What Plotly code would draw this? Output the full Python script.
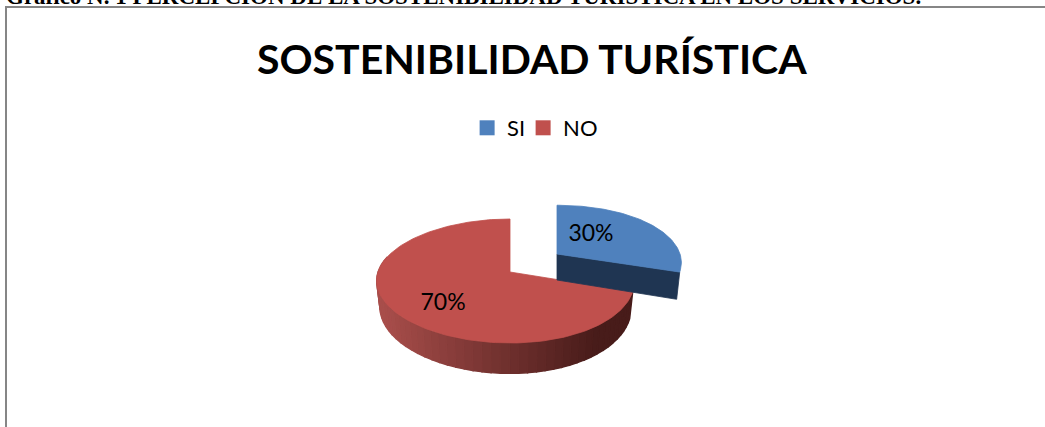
import numpy as np
import plotly.graph_objects as go

# Data
categories = ["SI", "NO"]
values = [30, 70]
colors = ["#4F81BD", "#C0504D"]
title_text = "SOSTENIBILIDAD TURÍSTICA"
header_text = "Gráfico N. 1 PERCEPCIÓN DE LA SOSTENIBILIDAD TURÍSTICA EN LOS SERVICIOS."

W, H = 1045, 427

# Projection of the tilted 3D pie
RX, RY, PERSP, SKEW = 127.5, 60.7, 0.145, 0.035
DEPTH = 26
apex = {"NO": (510, 272), "SI": (557, 254)}
yscale = {"NO": 1.0, "SI": 0.92}


def proj(theta_deg, name, r=1.0, drop=0.0):
    t = np.radians(theta_deg)
    ax, ay = apex[name]
    s = 1 / (1 + PERSP * r * np.cos(t))
    xscale = 1 - 0.025 * (drop > 0)
    x = ax + RX * r * np.sin(t) * s * (1 - SKEW * r * np.sin(t)) * xscale
    y = ay - RY * yscale[name] * r * np.cos(t) * s + drop * s
    return x, y


fracs = np.array(values) / sum(values) * 360
starts = np.concatenate([[0], np.cumsum(fracs)[:-1]])
ends = starts + fracs

fig = go.Figure()


def poly(xs, ys, color, width=0.8):
    fig.add_trace(go.Scatter(
        x=list(xs), y=list(ys), mode="lines", fill="toself", fillcolor=color,
        line=dict(color=color, width=width), showlegend=False, hoverinfo="skip"))


def mix(c1, c2, f):
    return "rgb(%d,%d,%d)" % tuple(int(a + (b - a) * f) for a, b in zip(c1, c2))


# Red slice: side wall with gradient, then top
name = "NO"
a0, a1 = starts[1], ends[1]
side = np.linspace(a0, min(a1, 285), 50)
for th0, th1 in zip(side[:-1], side[1:]):
    x0, y0 = proj(th0, name)
    x1, y1 = proj(th1, name)
    x2, y2 = proj(th1, name, drop=DEPTH)
    x3, y3 = proj(th0, name, drop=DEPTH)
    f = np.clip((x0 - 385) / 215, 0, 1)
    poly([x0, x1, x2, x3, x0], [y0, y1, y2, y3, y0], mix((168, 78, 75), (72, 28, 26), f), width=1.4)
th = np.linspace(a0, a1, 160)
px, py = proj(th, name)
poly(np.r_[apex[name][0], px, apex[name][0]], np.r_[apex[name][1], py, apex[name][1]], colors[1])

# Blue slice: dark cut face, then top
name = "SI"
a0, a1 = starts[0], ends[0]
ex, ey = proj(a1, name)
fx, fy = proj(a1, name, drop=DEPTH)
ax_, ay_ = apex[name]
poly([ax_, ex, fx, ax_, ax_], [ay_, ey, fy, ay_ + DEPTH, ay_], "#1F3552")
th = np.linspace(a0, a1, 100)
px, py = proj(th, name)
poly(np.r_[ax_, px, ax_], np.r_[ay_, py, ay_], colors[0])

# Data labels
label_pos = {"SI": (38, 0.46), "NO": (224, 0.69)}
for cat, v in zip(categories, values):
    lx, ly = proj(label_pos[cat][0], cat, r=label_pos[cat][1])
    fig.add_trace(go.Scatter(
        x=[lx], y=[ly], mode="text", text=[f"{v}%"], textposition="middle center",
        textfont=dict(family="Lato", size=23, color="#000000"),
        showlegend=False, hoverinfo="skip"))

# Legend entries
for cat, c in zip(categories, colors):
    fig.add_trace(go.Scatter(
        x=[None], y=[None], mode="markers", name=cat,
        marker=dict(symbol="square", size=15, color=c)))
# Empty trailing entry keeps the last legend label from being clipped
fig.add_trace(go.Scatter(
    x=[None], y=[None], mode="markers", name=" ",
    marker=dict(symbol="square", size=1, color="rgba(0,0,0,0)")))

# Frame
frame_x = [6, 6, W]
frame_y = [H, 7, 7]
fig.add_trace(go.Scatter(
    x=frame_x, y=frame_y, mode="lines", line=dict(color="#868686", width=2),
    showlegend=False, hoverinfo="skip"))

fig.update_layout(
    width=W, height=H,
    margin=dict(l=0, r=0, t=0, b=0),
    paper_bgcolor="white", plot_bgcolor="white",
    xaxis=dict(range=[0, W], visible=False, domain=[0, 1]),
    yaxis=dict(range=[H, 0], visible=False, domain=[0, 1]),
    legend=dict(orientation="h", x=0.4470, y=1 - 107 / H, xanchor="left", yanchor="top",
                font=dict(family="Lato", size=22, color="#000000"),
                bgcolor="rgba(0,0,0,0)", entrywidth=11, entrywidthmode="pixels",
                itemclick=False, itemdoubleclick=False),
    annotations=[
        dict(text=f"<b>{title_text}</b>", xref="paper", yref="paper", x=532 / W, y=1 - 59 / H,
             xanchor="center", yanchor="middle", showarrow=False,
             font=dict(family="Lato", size=41, color="#000000")),
        dict(text=f"<b>{header_text}</b>", xref="paper", yref="paper", x=5 / W, y=1 - 10 / H,
             xanchor="left", yanchor="bottom", showarrow=False, borderpad=0,
             font=dict(family="Liberation Serif", size=23, color="#000000")),
    ],
)

fig.write_html("out.html", config={"displayModeBar": False},
               post_script="document.body.style.margin='0';document.body.style.overflow='hidden';")
